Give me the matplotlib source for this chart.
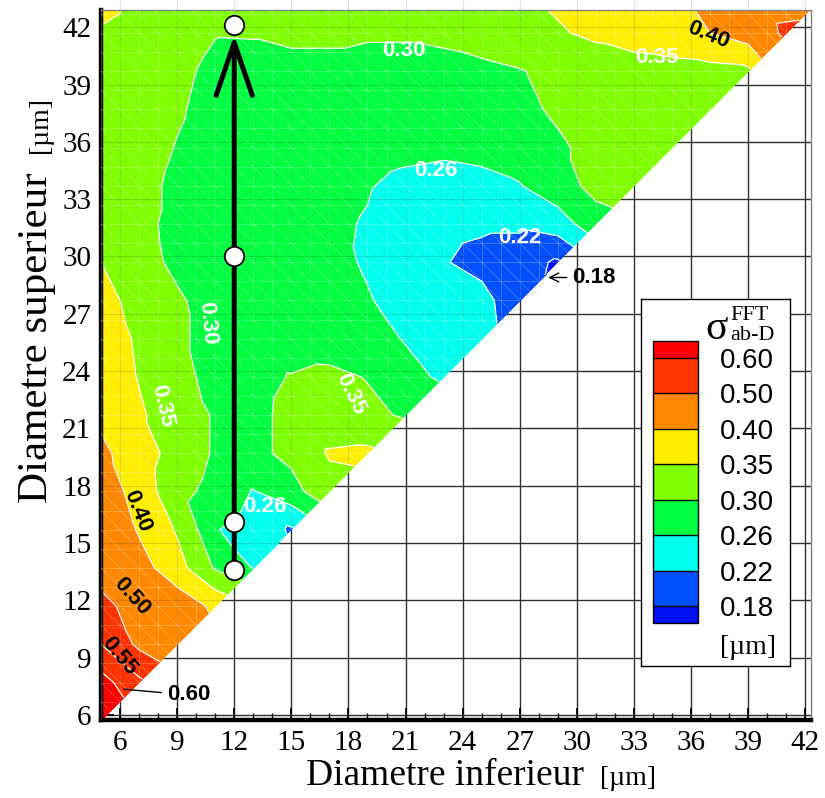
import numpy as np
import matplotlib
matplotlib.use("Agg")
import matplotlib.pyplot as plt
import matplotlib.tri as mtri
from matplotlib.colors import ListedColormap, BoundaryNorm
from matplotlib.patches import Polygon
from matplotlib.collections import LineCollection
from matplotlib.ticker import MultipleLocator

plt.rcParams['font.family'] = 'serif'
plt.rcParams['font.serif'] = ['Liberation Serif', 'DejaVu Serif']

# sigma_ab-D (FFT), nodes every 2 um
# column x = 5, 7, 9, ... ; row y = 5.7, 7.7, ... (diagonal node at y = x + 0.7)
x_start = 5.0
node_step = 2.0
diag_shift = 0.7

sigma_rows = [  # top row (y = 43.7) first
    [0.37, 0.34, 0.33, 0.32, 0.32, 0.32, 0.32, 0.32, 0.32, 0.32, 0.33, 0.345, 0.36, 0.37, 0.385, 0.395, 0.41, 0.44, 0.45, 0.46],
    [0.345, 0.33, 0.32, 0.302, 0.303, 0.31, 0.31, 0.305, 0.305, 0.31, 0.32, 0.33, 0.345, 0.36, 0.375, 0.385, 0.40, 0.425, 0.52],
    [0.34, 0.325, 0.31, 0.29, 0.285, 0.285, 0.285, 0.285, 0.285, 0.285, 0.29, 0.298, 0.31, 0.32, 0.325, 0.33, 0.335, 0.34],
    [0.34, 0.325, 0.305, 0.285, 0.28, 0.28, 0.28, 0.28, 0.28, 0.28, 0.285, 0.292, 0.305, 0.315, 0.32, 0.325, 0.33],
    [0.34, 0.32, 0.298, 0.282, 0.275, 0.275, 0.275, 0.273, 0.268, 0.265, 0.268, 0.28, 0.295, 0.31, 0.32, 0.34],
    [0.34, 0.315, 0.29, 0.28, 0.275, 0.272, 0.268, 0.262, 0.252, 0.25, 0.252, 0.258, 0.285, 0.31, 0.32],
    [0.34, 0.31, 0.29, 0.28, 0.275, 0.27, 0.265, 0.258, 0.245, 0.235, 0.228, 0.228, 0.24, 0.285],
    [0.35, 0.315, 0.292, 0.28, 0.275, 0.27, 0.268, 0.257, 0.24, 0.223, 0.205, 0.195, 0.175],
    [0.36, 0.34, 0.305, 0.285, 0.278, 0.272, 0.268, 0.262, 0.25, 0.238, 0.235, 0.19],
    [0.37, 0.345, 0.305, 0.29, 0.285, 0.28, 0.278, 0.272, 0.258, 0.245, 0.24],
    [0.375, 0.348, 0.31, 0.29, 0.288, 0.302, 0.31, 0.298, 0.27, 0.255],
    [0.39, 0.355, 0.33, 0.295, 0.29, 0.31, 0.315, 0.31, 0.295],
    [0.41, 0.375, 0.33, 0.295, 0.29, 0.31, 0.355, 0.36],
    [0.43, 0.38, 0.315, 0.285, 0.258, 0.285, 0.33],
    [0.45, 0.395, 0.345, 0.262, 0.245, 0.215],
    [0.47, 0.42, 0.37, 0.295, 0.258],
    [0.52, 0.47, 0.43, 0.39],
    [0.55, 0.49, 0.45],
    [0.62, 0.56],
    [0.66],
]

levels = [0.18, 0.22, 0.26, 0.30, 0.35, 0.40, 0.50, 0.60]
line_levels = [0.18, 0.22, 0.26, 0.30, 0.35, 0.40, 0.50, 0.55, 0.60]
band_colors = ['#0050ff', '#00ffee', '#00ff40', '#80ff00', '#ffee00', '#ff8800', '#ff3300']
under_color = '#0010f0'
over_color = '#ff0000'

# measurement path drawn on the map
path_x = [12, 12, 12, 12]
path_y = [13.6, 16.1, 30.0, 42.1]

# contour labels placed by hand (as in the original)
label_text = ['0.30', '0.35', '0.40', '0.26', '0.22', '0.30', '0.35', '0.35', '0.26', '0.40', '0.50', '0.55']
label_x = [20.9, 34.2, 36.9, 22.6, 27.0, 10.6, 8.2, 18.1, 13.6, 6.9, 6.6, 5.95]
label_y = [40.8, 40.4, 41.6, 34.5, 31.0, 26.5, 22.2, 22.8, 16.9, 16.7, 12.2, 9.1]
label_rot = [0, 0, -22, 0, 0, -85, -77, -64, 0, -68, -48, -50]
label_col = ['white', 'white', 'black', 'white', 'white', 'white', 'white', 'white', 'white', 'black', 'black', 'black']

W, H = 825, 798


def fx(px):
    return px / W


def fy(py):
    return 1 - py / H


# ---- nodes and triangles ----
n_rows = len(sigma_rows)
node_id = {}
xs, ys, zs = [], [], []
for k, row in enumerate(sigma_rows):
    j = n_rows - 1 - k
    for i, val in enumerate(row):
        node_id[(i, j)] = len(xs)
        xs.append(x_start + node_step * i)
        ys.append(x_start + diag_shift + node_step * j)
        zs.append(val)

tris = []
for j in range(n_rows - 1):
    for i in range(j + 1):
        if i < j:
            tris.append([node_id[(i, j)], node_id[(i + 1, j)], node_id[(i, j + 1)]])
            tris.append([node_id[(i + 1, j)], node_id[(i + 1, j + 1)], node_id[(i, j + 1)]])
        else:
            tris.append([node_id[(i, j)], node_id[(i + 1, j + 1)], node_id[(i, j + 1)]])
triang = mtri.Triangulation(xs, ys, tris)

fig = plt.figure(figsize=(W / 100, H / 100), dpi=100)
ax = fig.add_axes([fx(101), fy(720), (811 - 101) / W, (720 - 10) / H])

cmap = ListedColormap(band_colors)
cmap.set_under(under_color)
cmap.set_over(over_color)
norm = BoundaryNorm(levels, cmap.N)

cf = ax.tricontourf(triang, zs, levels=levels, cmap=cmap, norm=norm, extend='both', zorder=1)
ax.tricontour(triang, zs, levels=line_levels, colors='white', linewidths=0.9, zorder=2)

# faint mesh and grid inside the data triangle
tri_patch = Polygon([(min(xs), min(ys)), (max(xs), max(ys)), (min(xs), max(ys))],
                    closed=True, transform=ax.transData)
mesh = []
for c in np.arange(5, 44, 1.0):
    mesh.append([(c, 0), (c, 50)])
for c in np.arange(5.7, 44, 1.0):
    mesh.append([(0, c), (50, c)])
for s in np.arange(10.7, 88, 1.0):
    mesh.append([(s - 50, 50), (50, s - 50)])
lc = LineCollection(mesh, colors='white', linewidths=0.6, alpha=0.25, zorder=3)
lc.set_clip_path(tri_patch)
ax.add_collection(lc)

faint = [[(c, 0), (c, 50)] for c in range(6, 43, 3)] + [[(0, c), (50, c)] for c in range(6, 43, 3)]
lc2 = LineCollection(faint, colors='black', linewidths=0.8, alpha=0.12, zorder=3)
lc2.set_clip_path(tri_patch)
ax.add_collection(lc2)

# path arrow and points
ax.annotate('', xy=(path_x[-1], path_y[-1] - 0.5), xytext=(path_x[0], path_y[0]),
            arrowprops=dict(arrowstyle='->,head_length=3.8,head_width=1.3', lw=3.6,
                            color='black', shrinkA=0, shrinkB=0, mutation_scale=10),
            zorder=6)
ax.plot(path_x, path_y, 'o', ms=14, mfc='white', mec='black', mew=1.3, zorder=7, clip_on=False)

for t, x, y, r, c in zip(label_text, label_x, label_y, label_rot, label_col):
    ax.text(x, y, t, rotation=r, color=c, ha='center', va='center', fontsize=16,
            fontweight='bold', family='Liberation Sans', zorder=5)

ax.annotate('0.18', xy=(28.5, 28.9), xytext=(30.9, 28.9), ha='center', va='center',
            fontsize=16, fontweight='bold', family='Liberation Sans', zorder=5,
            arrowprops=dict(arrowstyle='->', lw=1.0, color='black', shrinkA=2, shrinkB=0))
ax.annotate('0.60', xy=(6.2, 7.35), xytext=(9.6, 7.05), ha='center', va='center',
            fontsize=16, fontweight='bold', family='Liberation Sans', zorder=5,
            arrowprops=dict(arrowstyle='-', lw=1.0, color='black', shrinkA=2, shrinkB=0))

ax.set_xlim(5.0, 42.3)
ax.set_ylim(5.74, 42.9)
ax.xaxis.set_major_locator(MultipleLocator(3))
ax.yaxis.set_major_locator(MultipleLocator(3))
ax.xaxis.set_minor_locator(MultipleLocator(1))
ax.yaxis.set_minor_locator(MultipleLocator(1))
ax.tick_params(which='both', direction='in', top=False, right=False)
ax.tick_params(which='major', length=9, width=1.3, labelsize=21, pad=7)
ax.tick_params(which='minor', length=5, width=1.0)
ax.grid(True, which='major', color='#303030', lw=1.0)
ax.set_axisbelow(True)
for side in ['left', 'bottom']:
    ax.spines[side].set_linewidth(3.2)
for side in ['top', 'right']:
    ax.spines[side].set_linewidth(1.0)
    ax.spines[side].set_color('#808080')

fig.text(fx(445), fy(785), 'Diametre inferieur', ha='center', va='baseline', fontsize=27)
fig.text(fx(600), fy(785), '[\u00b5m]', ha='left', va='baseline', fontsize=20)
fig.text(fx(47), fy(338), 'Diametre superieur', rotation=90, rotation_mode='anchor',
         ha='center', va='baseline', fontsize=31)
fig.text(fx(47), fy(125), '[\u00b5m]', rotation=90, rotation_mode='anchor',
         ha='center', va='baseline', fontsize=20)

# legend box
bax = fig.add_axes([fx(641), fy(666), 149 / W, 367 / H])
bax.set_xticks([])
bax.set_yticks([])
bax.set_facecolor('white')
for sp in bax.spines.values():
    sp.set_linewidth(1.0)
    sp.set_color('black')

cax = fig.add_axes([fx(653), fy(623), 45 / W, 282 / H])
cb = fig.colorbar(cf, cax=cax, extend='both', extendrect=True, extendfrac=17 / 248,
                  drawedges=True, ticks=levels)
cb.outline.set_linewidth(1.0)
cb.dividers.set_linewidth(1.0)
cb.ax.tick_params(length=0, pad=16)
cb.ax.set_yticklabels(['%.2f' % v for v in levels], fontsize=20, family='Liberation Sans')

fig.text(fx(717), fy(329), '\u03c3', ha='center', va='center', fontsize=30)
fig.text(fx(730), fy(315), 'FFT', ha='left', va='center', fontsize=16)
fig.text(fx(730), fy(335), 'ab-D', ha='left', va='center', fontsize=16)
fig.text(fx(748), fy(647), '[\u00b5m]', ha='center', va='center', fontsize=20)

fig.savefig('out.png', dpi=100)
